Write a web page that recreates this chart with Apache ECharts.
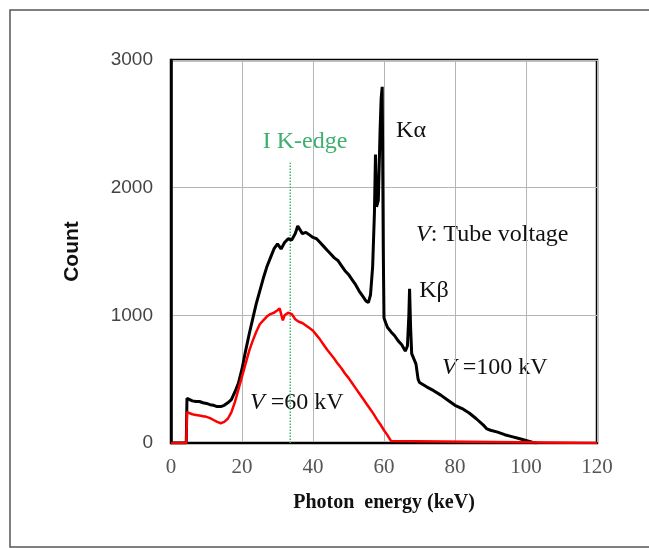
<!DOCTYPE html>
<html><head><meta charset="utf-8">
<script src="https://cdn.jsdelivr.net/npm/echarts@6/dist/echarts.min.js"></script>
<style>html,body{margin:0;padding:0;background:#fff}#c{width:649px;height:548px}</style>
</head><body><div id="c"></div>
<script>
// Tube voltage 100 kV spectrum
const energy100 = [0,4.3,4.5,5,6,7,8,9,10,11,12,13,14,15,16,17,18,19,20,21,22,23,24,25,26,27,28,29,30,31,32,33,34,35,35.7,36,37,38,39,40,41,42,43,44,45,46,47,48,49,50,51,52,53,54,55,55.6,56.2,56.8,57.3,57.6,57.9,58.4,58.9,59.2,59.5,59.8,60.0,60.5,61,62,63,64,65,66,66.6,67.0,67.2,67.5,67.8,68.3,69,69.6,70,72,74,76,78,80,82,84,86,88,89,90,92,94,96,98,100,102,103];
const count100  = [0,0,350,340,330,325,325,315,310,300,295,285,285,295,315,340,400,470,580,720,850,970,1090,1190,1290,1380,1450,1520,1560,1520,1570,1600,1590,1640,1700,1690,1640,1650,1630,1610,1600,1570,1540,1510,1480,1450,1430,1390,1350,1320,1280,1240,1190,1150,1110,1100,1160,1380,1800,2260,1850,1900,2450,2700,2790,1500,980,940,905,870,840,800,770,720,760,1000,1208,900,700,685,620,500,474,440,410,375,335,295,270,235,190,140,110,100,85,65,50,35,20,5,0];
// Tube voltage 60 kV spectrum
const energy60 = [0,4.3,4.5,5,6,7,8,9,10,11,12,13,14,15,16,17,18,19,20,21,22,23,24,25,26,27,28,29,30,30.6,31.5,32,33,34,35,36,37,38,39,40,41,42,43,44,45,46,47,48,49,50,51,52,53,54,55,56,57,58,59,60,61,62,62.4,120];
const count60  = [0,0,242,240,225,220,215,210,205,195,180,165,155,165,190,240,320,420,520,620,720,800,870,930,960,990,1010,1020,1040,1055,960,1000,1020,1010,970,950,940,920,900,880,845,810,770,730,695,660,620,585,545,510,470,430,390,350,310,270,230,185,145,100,60,15,0,0];
// Iodine K-edge marker
const kEdgeEnergy = [33.6,33.6];
const kEdgeCount  = [0,2195];
const xTicks = [0,20,40,60,80,100,120];
const yTicks = [0,1000,2000,3000];

const zip = (a,b)=>a.map((v,i)=>[v,b[i]]);
const chart = echarts.init(document.getElementById('c'));
const serif = '"Liberation Serif","Times New Roman",serif';
const annFont = 24;
chart.setOption({
  animation:false,
  backgroundColor:'#fff',
  grid:{left:171,right:52,top:60,bottom:105,show:true,borderColor:'#000',borderWidth:2.5,backgroundColor:'transparent'},
  xAxis:{type:'value',min:xTicks[0],max:xTicks[xTicks.length-1],interval:20,
    name:'Photon  energy (keV)',nameLocation:'middle',nameGap:50,
    nameTextStyle:{fontFamily:serif,fontWeight:'bold',fontSize:20,color:'#111'},
    axisLine:{show:true,lineStyle:{color:'#000',width:2}},axisTick:{show:false},
    axisLabel:{margin:14,fontFamily:serif,fontSize:21,color:'#555',formatter:v=>String(v)},
    splitLine:{show:true,lineStyle:{color:'#b5b5b5',width:1}}},
  yAxis:{type:'value',min:yTicks[0],max:yTicks[yTicks.length-1],interval:1000,
    name:'Count',nameLocation:'middle',nameGap:88,
    nameTextStyle:{fontFamily:'"Liberation Sans",Arial,sans-serif',fontWeight:'bold',fontSize:21,color:'#111'},
    axisLine:{show:true,lineStyle:{color:'#000',width:2.5}},axisTick:{show:false},
    axisLabel:{margin:18,fontFamily:'"Liberation Sans",Arial,sans-serif',fontSize:19,color:'#444',formatter:v=>String(v)},
    splitLine:{show:true,lineStyle:{color:'#b5b5b5',width:1}}},
  series:[
    {type:'line',data:zip(kEdgeEnergy,kEdgeCount),symbol:'none',z:1,
      lineStyle:{color:'#3db36e',width:1.5,type:'dotted'}},
    {type:'line',data:zip(energy100,count100),symbol:'none',z:2,
      lineStyle:{color:'#000',width:3}},
    {type:'line',data:zip(energy60,count60),symbol:'none',z:3,
      lineStyle:{color:'#f00',width:2.5}}
  ],
  graphic:[
    {type:'rect',shape:{x:10,y:10,width:660,height:537},style:{fill:'none',stroke:'#555',lineWidth:1.5},silent:true},
    {type:'text',x:305,y:142,style:{text:'I K-edge',font:annFont+'px '+serif,fill:'#3daf6e',textAlign:'center',textVerticalAlign:'middle'}},
    {type:'text',x:411,y:131,style:{text:'Kα',font:annFont+'px '+serif,fill:'#111',textAlign:'center',textVerticalAlign:'middle'}},
    {type:'text',x:434,y:291,style:{text:'Kβ',font:annFont+'px '+serif,fill:'#111',textAlign:'center',textVerticalAlign:'middle'}},
    {type:'text',x:416,y:235,style:{text:'{i|V}: Tube voltage',font:annFont+'px '+serif,fill:'#111',textAlign:'left',textVerticalAlign:'middle',
      rich:{i:{fontStyle:'italic',fontFamily:serif,fontSize:annFont,fill:'#111'}}}},
    {type:'text',x:442,y:368,style:{text:'{i|V} =100 kV',font:annFont+'px '+serif,fill:'#111',textAlign:'left',textVerticalAlign:'middle',
      rich:{i:{fontStyle:'italic',fontFamily:serif,fontSize:annFont,fill:'#111'}}}},
    {type:'text',x:250,y:403,style:{text:'{i|V} =60 kV',font:annFont+'px '+serif,fill:'#111',textAlign:'left',textVerticalAlign:'middle',
      rich:{i:{fontStyle:'italic',fontFamily:serif,fontSize:annFont,fill:'#111'}}}}
  ]
});
</script></body></html>
